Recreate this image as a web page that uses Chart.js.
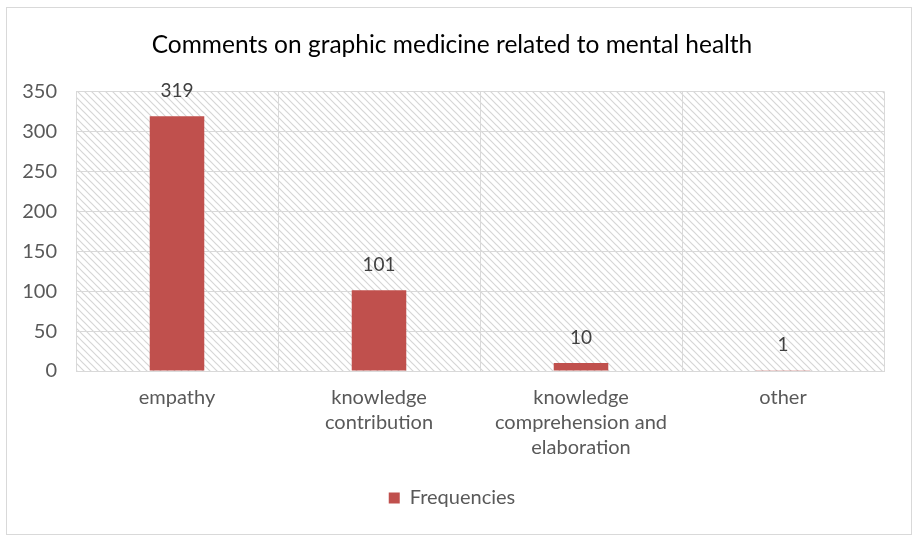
<!DOCTYPE html>
<html>
<head>
<meta charset="utf-8">
<script src="https://cdn.jsdelivr.net/npm/chart.js@4"></script>
<style>
  html, body { margin: 0; padding: 0; background: #fff; }
  #wrap { width: 913px; height: 536px; position: relative; }
</style>
</head>
<body>
<div id="wrap"><canvas id="chart"></canvas></div>
<script>
(function () {
    "use strict";

    const categories = ["empathy", ["knowledge", "contribution"], ["knowledge", "comprehension and", "elaboration"], "other"];
    const frequencies = [319, 101, 10, 1];
    const yTicks = [0, 50, 100, 150, 200, 250, 300, 350];

    const FONT = "Lato, 'Open Sans', sans-serif";
    const GRID = "#d9d9d9";

    // diagonal hatch for the plot area
    function makeHatch() {
        const c = document.createElement("canvas");
        c.width = 7;
        c.height = 7;
        const g = c.getContext("2d");
        g.strokeStyle = "#d6d6d6";
        g.lineWidth = 1.2;
        g.beginPath();
        g.moveTo(-1, -1);
        g.lineTo(8, 8);
        g.moveTo(-1, 6);
        g.lineTo(1, 8);
        g.moveTo(6, -1);
        g.lineTo(8, 1);
        g.stroke();
        return g.createPattern(c, "repeat");
    }

    const backdrop = {
        id: "backdrop",
        beforeDraw(chart) {
            const { ctx, chartArea: a } = chart;
            ctx.save();
            ctx.fillStyle = makeHatch();
            ctx.fillRect(a.left, a.top, a.right - a.left, a.bottom - a.top);
            ctx.restore();
        },
        afterDraw(chart) {
            const ctx = chart.ctx;
            ctx.save();
            ctx.strokeStyle = GRID;
            ctx.lineWidth = 1;
            ctx.strokeRect(6.5, 7.5, 905, 527);
            ctx.restore();
        },
    };

    const valueLabels = {
        id: "valueLabels",
        afterDatasetsDraw(chart) {
            const ctx = chart.ctx;
            const meta = chart.getDatasetMeta(0);
            ctx.save();
            ctx.font = "19px " + FONT;
            ctx.fillStyle = "#404040";
            ctx.textAlign = "center";
            ctx.textBaseline = "middle";
            meta.data.forEach((bar, i) => {
                ctx.fillText(String(frequencies[i]), bar.x, bar.y - 25);
            });
            ctx.restore();
        },
    };

    new Chart(document.getElementById("chart"), {
        type: "bar",
        data: {
            labels: categories,
            datasets: [
                {
                    label: "Frequencies",
                    data: frequencies,
                    backgroundColor: "#c0504d",
                    barPercentage: 0.27,
                    categoryPercentage: 1,
                },
            ],
        },
        options: {
            responsive: true,
            maintainAspectRatio: false,
            animation: false,
            layout: {
                padding: { left: 20, right: 29, top: 14, bottom: 18 },
            },
            plugins: {
                title: {
                    display: true,
                    text: "Comments on graphic medicine related to mental health",
                    color: "#000",
                    font: { family: FONT, size: 24.5, weight: "normal", lineHeight: 1.2 },
                    padding: { top: 16, bottom: 32 },
                },
                legend: {
                    position: "bottom",
                    labels: {
                        color: "#595959",
                        font: { family: FONT, size: 20 },
                        boxWidth: 11,
                        boxHeight: 11,
                        padding: 10,
                    },
                },
                tooltip: { enabled: false },
            },
            scales: {
                x: {
                    grid: { color: GRID, offset: true, drawTicks: false },
                    border: { color: GRID },
                    afterFit(axis) {
                        axis.height = 107;
                    },
                    ticks: {
                        color: "#595959",
                        font: { family: FONT, size: 20, lineHeight: 1.25 },
                        padding: 14,
                        maxRotation: 0,
                    },
                },
                y: {
                    min: 0,
                    max: 350,
                    afterBuildTicks(axis) {
                        axis.ticks = yTicks.map((v) => ({ value: v }));
                    },
                    afterFit(axis) {
                        axis.width = 56;
                    },
                    grid: { color: GRID, drawTicks: false },
                    border: { display: false },
                    ticks: {
                        color: "#595959",
                        font: { family: FONT, size: 20 },
                        padding: 19,
                    },
                },
            },
        },
        plugins: [backdrop, valueLabels],
    });
})();
</script>
</body>
</html>
